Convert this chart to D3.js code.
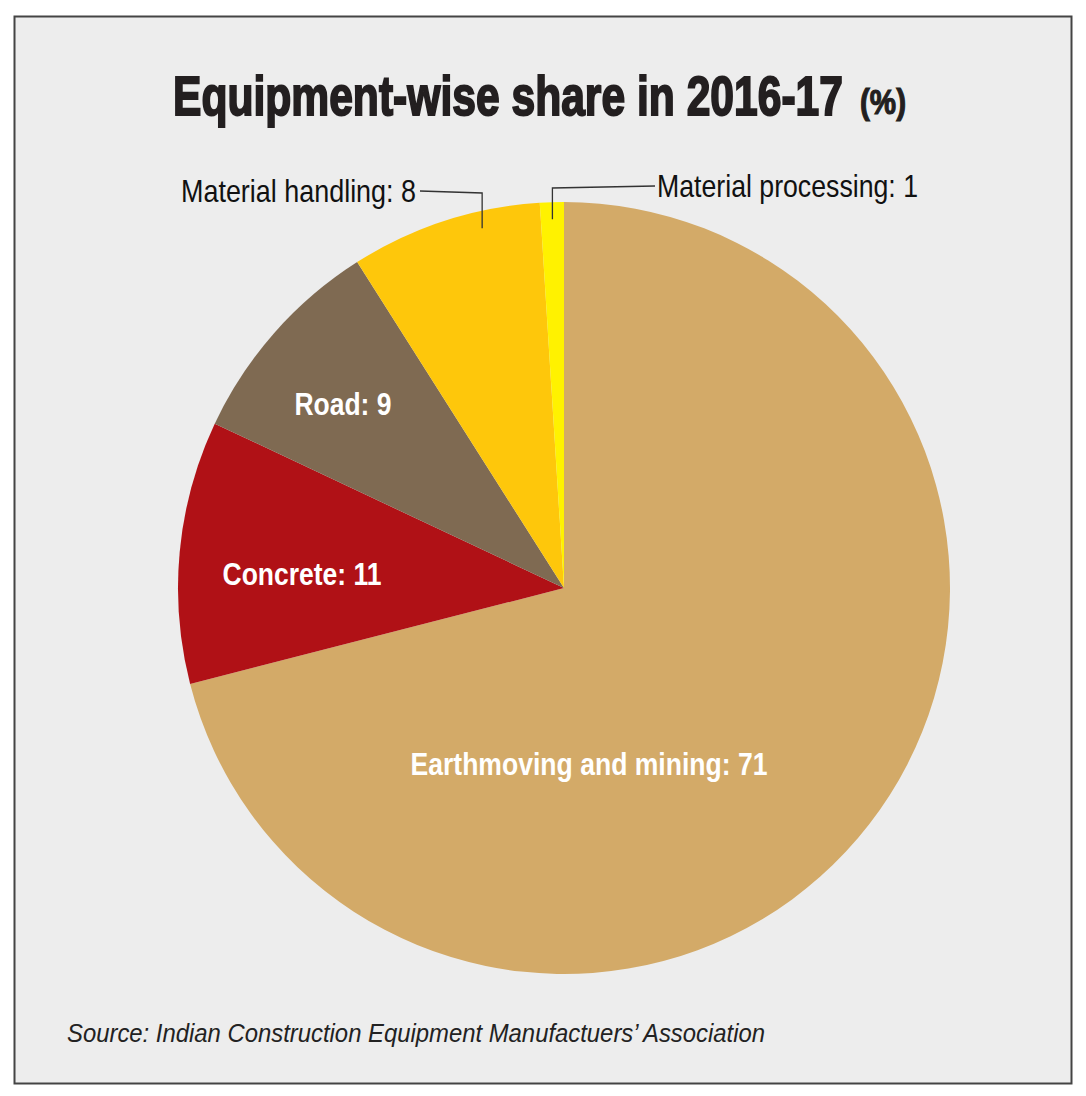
<!DOCTYPE html>
<html lang="en">
<head>
<meta charset="UTF-8">
<title>Equipment-wise share in 2016-17</title>
<script src="https://cdn.jsdelivr.net/npm/d3@7"></script>
<style>
  html, body { margin: 0; padding: 0; background: #fff; }
  svg { display: block; }
  .narrow { font-family: "Liberation Sans Narrow", "Arial Narrow", "Liberation Sans", sans-serif; }
</style>
</head>
<body>
<div id="chart"></div>
<script>
  // data
  const categories = ["Earthmoving and mining", "Concrete", "Road", "Material handling", "Material processing"]
  const shares = [71, 11, 9, 8, 1]
  const colors = ["#d3aa68", "#b01116", "#7f6a52", "#fec70b", "#fff200"]

  const width = 1086, height = 1096
  const cx = 564, cy = 588, r = 386

  const svg = d3.select("#chart").append("svg")
    .attr("width", width).attr("height", height)

  // frame
  svg.append("rect")
    .attr("x", 14.5).attr("y", 16.5)
    .attr("width", 1057).attr("height", 1067)
    .attr("fill", "#ededed").attr("stroke", "#444").attr("stroke-width", 2)

  // squeeze a text horizontally so it spans w pixels from x
  function fitText(x, y, w, str, size, weight, strokeW) {
    const gg = svg.append("g")
    const t = gg.append("text").attr("class", "narrow")
      .attr("x", 0).attr("y", 0)
      .attr("fill", "#231f20").attr("stroke", "#231f20").attr("stroke-width", strokeW)
      .style("font-weight", weight).style("font-size", size + "px")
      .text(str)
    const sx = w / t.node().getComputedTextLength()
    gg.attr("transform", `translate(${x},${y}) scale(${sx},1)`)
    return t
  }

  // title, two pieces
  fitText(173, 115, 670, "Equipment-wise share in 2016-17", 56, "bold", 2)
  fitText(860, 114, 46, "(%)", 36, "bold", 1.2)

  const pie = d3.pie().sort(null).value(d => d)
  const arcs = pie(shares)
  const arc = d3.arc().innerRadius(0).outerRadius(r)

  const g = svg.append("g").attr("transform", `translate(${cx},${cy})`)
  g.selectAll("path.slice")
    .data(arcs)
    .enter().append("path")
    .attr("class", "slice")
    .attr("d", arc)
    .attr("fill", (d, i) => colors[i])

  // inside labels (white, bold)
  const inside = [
    { i: 0, x: 589, y: 775, w: 357 },
    { i: 1, x: 302, y: 585, w: 159 },
    { i: 2, x: 343, y: 415, w: 97 }
  ]
  svg.selectAll("text.inlab")
    .data(inside)
    .enter().append("text")
    .attr("class", "inlab narrow")
    .attr("x", d => d.x).attr("y", d => d.y)
    .attr("text-anchor", "middle")
    .attr("fill", "#fff")
    .style("font-weight", "bold").style("font-size", "31px")
    .attr("textLength", d => d.w).attr("lengthAdjust", "spacingAndGlyphs")
    .text(d => categories[d.i] + ": " + shares[d.i])

  // outside labels with leader lines
  const polar = (ang, rad) => [cx + rad * Math.sin(ang), cy - rad * Math.cos(ang)]
  const outside = [
    { i: 3, ang: arcs[3].startAngle + (arcs[3].endAngle - arcs[3].startAngle) * 0.68, lx: 416, ly: 191, elbow: 193, anchor: "end", w: 235 },
    { i: 4, ang: (arcs[4].startAngle + arcs[4].endAngle) / 2, lx: 657, ly: 186, elbow: 188, anchor: "start", w: 261 }
  ]
  outside.forEach(d => {
    const p = polar(d.ang, r - 17)
    const tipX = d.anchor === "end" ? d.lx + 4 : d.lx - 2
    svg.append("path")
      .attr("d", `M${tipX},${d.ly} L${p[0]},${d.elbow} L${p[0]},${p[1]}`)
      .attr("fill", "none").attr("stroke", "#333").attr("stroke-width", 1.3)
    svg.append("text").attr("class", "narrow")
      .attr("x", d.lx).attr("y", d.ly + 11)
      .attr("text-anchor", d.anchor)
      .attr("fill", "#111")
      .style("font-size", "32px")
      .attr("textLength", d.w).attr("lengthAdjust", "spacingAndGlyphs")
      .text(categories[d.i] + ": " + shares[d.i])
  })

  // source
  svg.append("text").attr("class", "narrow")
    .attr("x", 67).attr("y", 1042)
    .attr("fill", "#222")
    .style("font-size", "26px").style("font-style", "italic")
    .attr("textLength", 698).attr("lengthAdjust", "spacingAndGlyphs")
    .text("Source: Indian Construction Equipment Manufactuers\u2019 Association")
</script>
</body>
</html>
